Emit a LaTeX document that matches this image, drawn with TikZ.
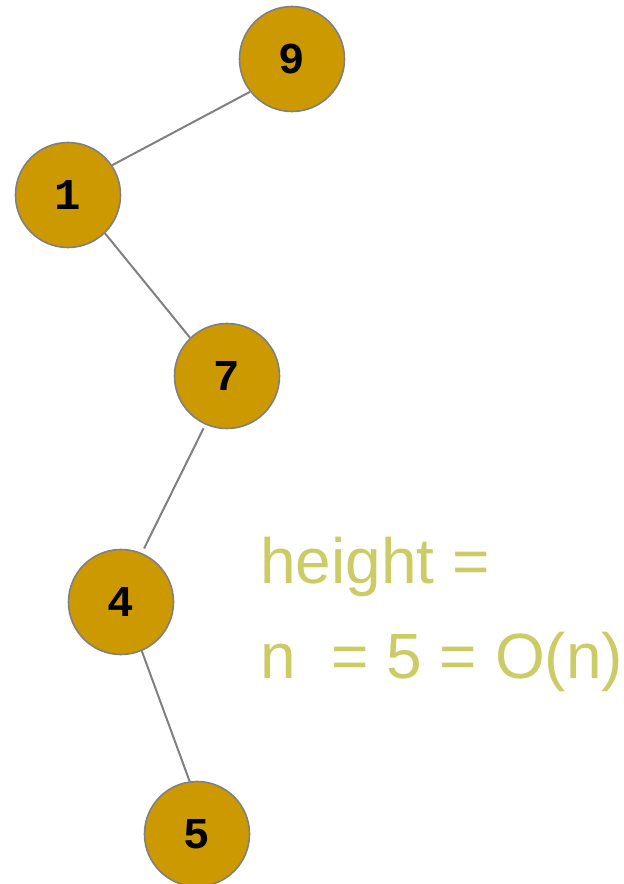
\documentclass[tikz,border=0pt]{standalone}
\usepackage{fontspec}
\setmainfont{Liberation Sans}
\newfontfamily\digitfont{Liberation Mono}
\definecolor{nodefill}{RGB}{204,153,0}
\definecolor{edgegray}{RGB}{128,128,128}
\definecolor{txtcol}{RGB}{204,204,102}
\begin{document}
\begin{tikzpicture}[x=1pt,y=-1pt,
  treenode/.style={circle,fill=nodefill,draw=edgegray,line width=1.6pt,minimum size=105pt,inner sep=0pt,
    font=\digitfont\bfseries\fontsize{44}{44}\selectfont},
  treeedge/.style={draw=edgegray,line width=2pt},
  bigtext/.style={anchor=base west,inner sep=0pt,text=txtcol,font=\fontsize{64}{64}\selectfont}]
\useasboundingbox (0,0) rectangle (624,884);
\node[treenode] (n9) at (292,59) {9};
\node[treenode] (n1) at (68,195) {1};
\node[treenode] (n7) at (227,376) {7};
\node[treenode] (n4) at (121,602) {4};
\node[treenode] (n5) at (197,834) {5};
\draw[treeedge] (n9.-142) -- (n1.34);
\draw[treeedge] (n1.-46) -- (n7.134);
\draw[treeedge,shorten <=4pt,shorten >=5pt] (n7.-114) -- (n4.67);
\draw[treeedge] (n4.-67) -- (n5.98);
\node[bigtext] (t1) at (260,583) {height =};
\node[bigtext] (t2) at (260,678) {n\ \ = 5 = O(n)};
\end{tikzpicture}
\end{document}
